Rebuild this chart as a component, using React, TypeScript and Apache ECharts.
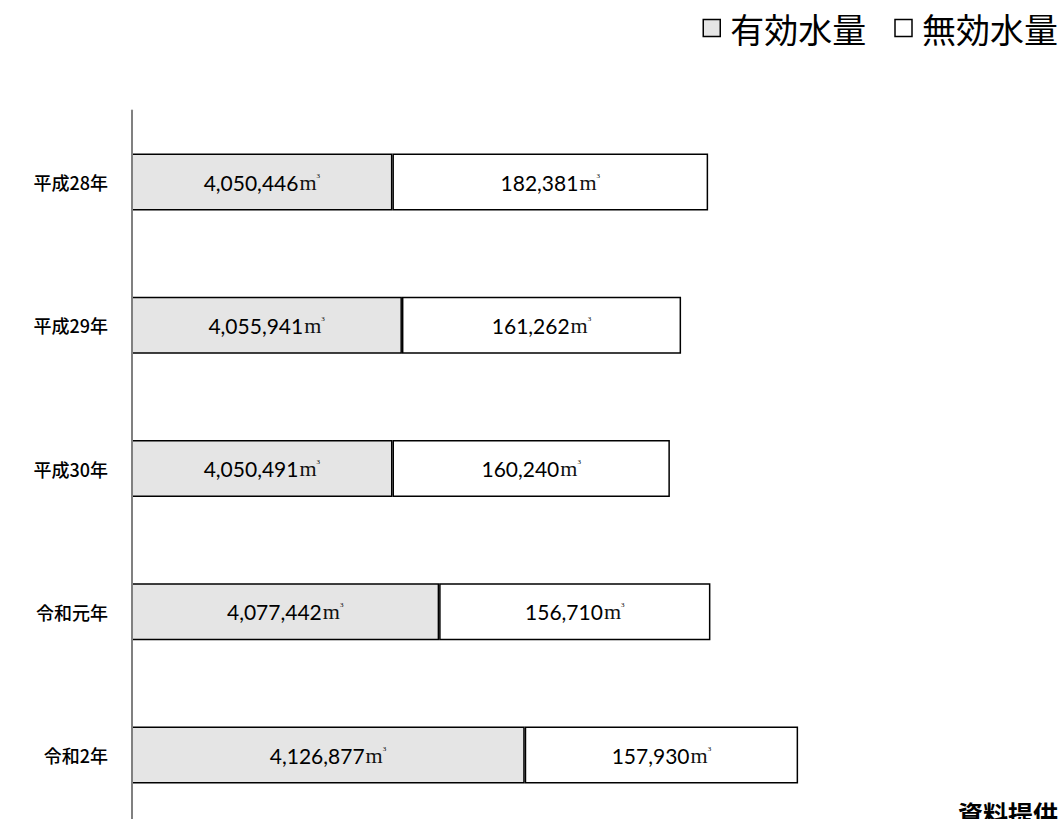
import React, { useEffect, useRef } from "react";
import * as echarts from "echarts";

const categories = ["平成28年", "平成29年", "平成30年", "令和元年", "令和2年"];
const effectiveWater = [4050446, 4055941, 4050491, 4077442, 4126877];
const ineffectiveWater = [182381, 161262, 160240, 156710, 157930];
const seriesNames = ["有効水量", "無効水量"];
const sourceNote = "資料提供";

const fmt = (v: number) => v.toLocaleString("en-US");

export default function App() {
  const ref = useRef<HTMLDivElement>(null);
  useEffect(() => {
    if (!ref.current) return;
    const chart = echarts.init(ref.current, undefined, { renderer: "svg" });
    const rich = {
      n: { fontFamily: "Lato", fontSize: 21, color: "#000" },
      m: { fontFamily: "Times New Roman, Liberation Serif, serif", fontWeight: "normal", fontSize: 22, color: "#111", padding: [0, 0, 0, 1] },
      s: { fontFamily: "Times New Roman, Liberation Serif, serif", fontSize: 7, color: "#000", padding: [0, 0, 13, 0] },
    };
    const label = {
      show: true,
      position: "inside",
      formatter: (p: any) => `{n|${fmt(p.value)}}{m|m}{s|3}`,
      rich,
    };
    chart.setOption({
      animation: false,
      backgroundColor: "#fff",
      legend: {
        data: seriesNames,
        right: 5,
        top: 11,
        padding: 0,
        itemWidth: 17,
        itemHeight: 17,
        itemGap: 28,
        icon: "rect",
        itemStyle: { borderWidth: 1.5, borderColor: "#000" },
        textStyle: {
          fontFamily: "Noto Sans CJK JP",
          fontSize: 34,
          color: "#000",
          padding: [0, 0, 0, 5],
        },
      },
      grid: { left: 132, top: 110.4, right: 65.5, bottom: 33.35, containLabel: false },
      xAxis: {
        type: "value",
        min: 3900000,
        max: 4400000,
        show: false,
      },
      yAxis: {
        type: "category",
        data: categories,
        inverse: true,
        z: 5,
        axisLine: { show: true, lineStyle: { color: "#808080", width: 2 } },
        axisTick: { show: false },
        axisLabel: {
          margin: 24,
          fontFamily: "Noto Sans CJK JP",
          fontSize: 18,
          fontWeight: 500,
          color: "#000",
        },
      },
      series: [
        {
          name: seriesNames[0],
          type: "bar",
          stack: "total",
          barWidth: 57,
          data: effectiveWater,
          itemStyle: { color: "#e5e5e5", borderColor: "#000", borderWidth: 1.5 },
          label,
        },
        {
          name: seriesNames[1],
          type: "bar",
          stack: "total",
          barWidth: 57,
          data: ineffectiveWater,
          itemStyle: { color: "#fff", borderColor: "#000", borderWidth: 1.5 },
          label,
        },
      ],
      graphic: [
        {
          type: "text",
          left: 958,
          top: 800,
          style: {
            text: sourceNote,
            fontFamily: "Noto Sans CJK JP",
            fontWeight: "bold",
            fontSize: 25,
            fill: "#000",
          },
        },
      ],
    });
    return () => chart.dispose();
  }, []);
  return (
    <div style={{ position: "fixed", left: 0, top: 0, width: 1063, height: 819, overflow: "hidden", background: "#fff" }}>
      <div ref={ref} style={{ position: "absolute", left: 0, top: 0, width: 1063, height: 860 }} />
    </div>
  );
}
